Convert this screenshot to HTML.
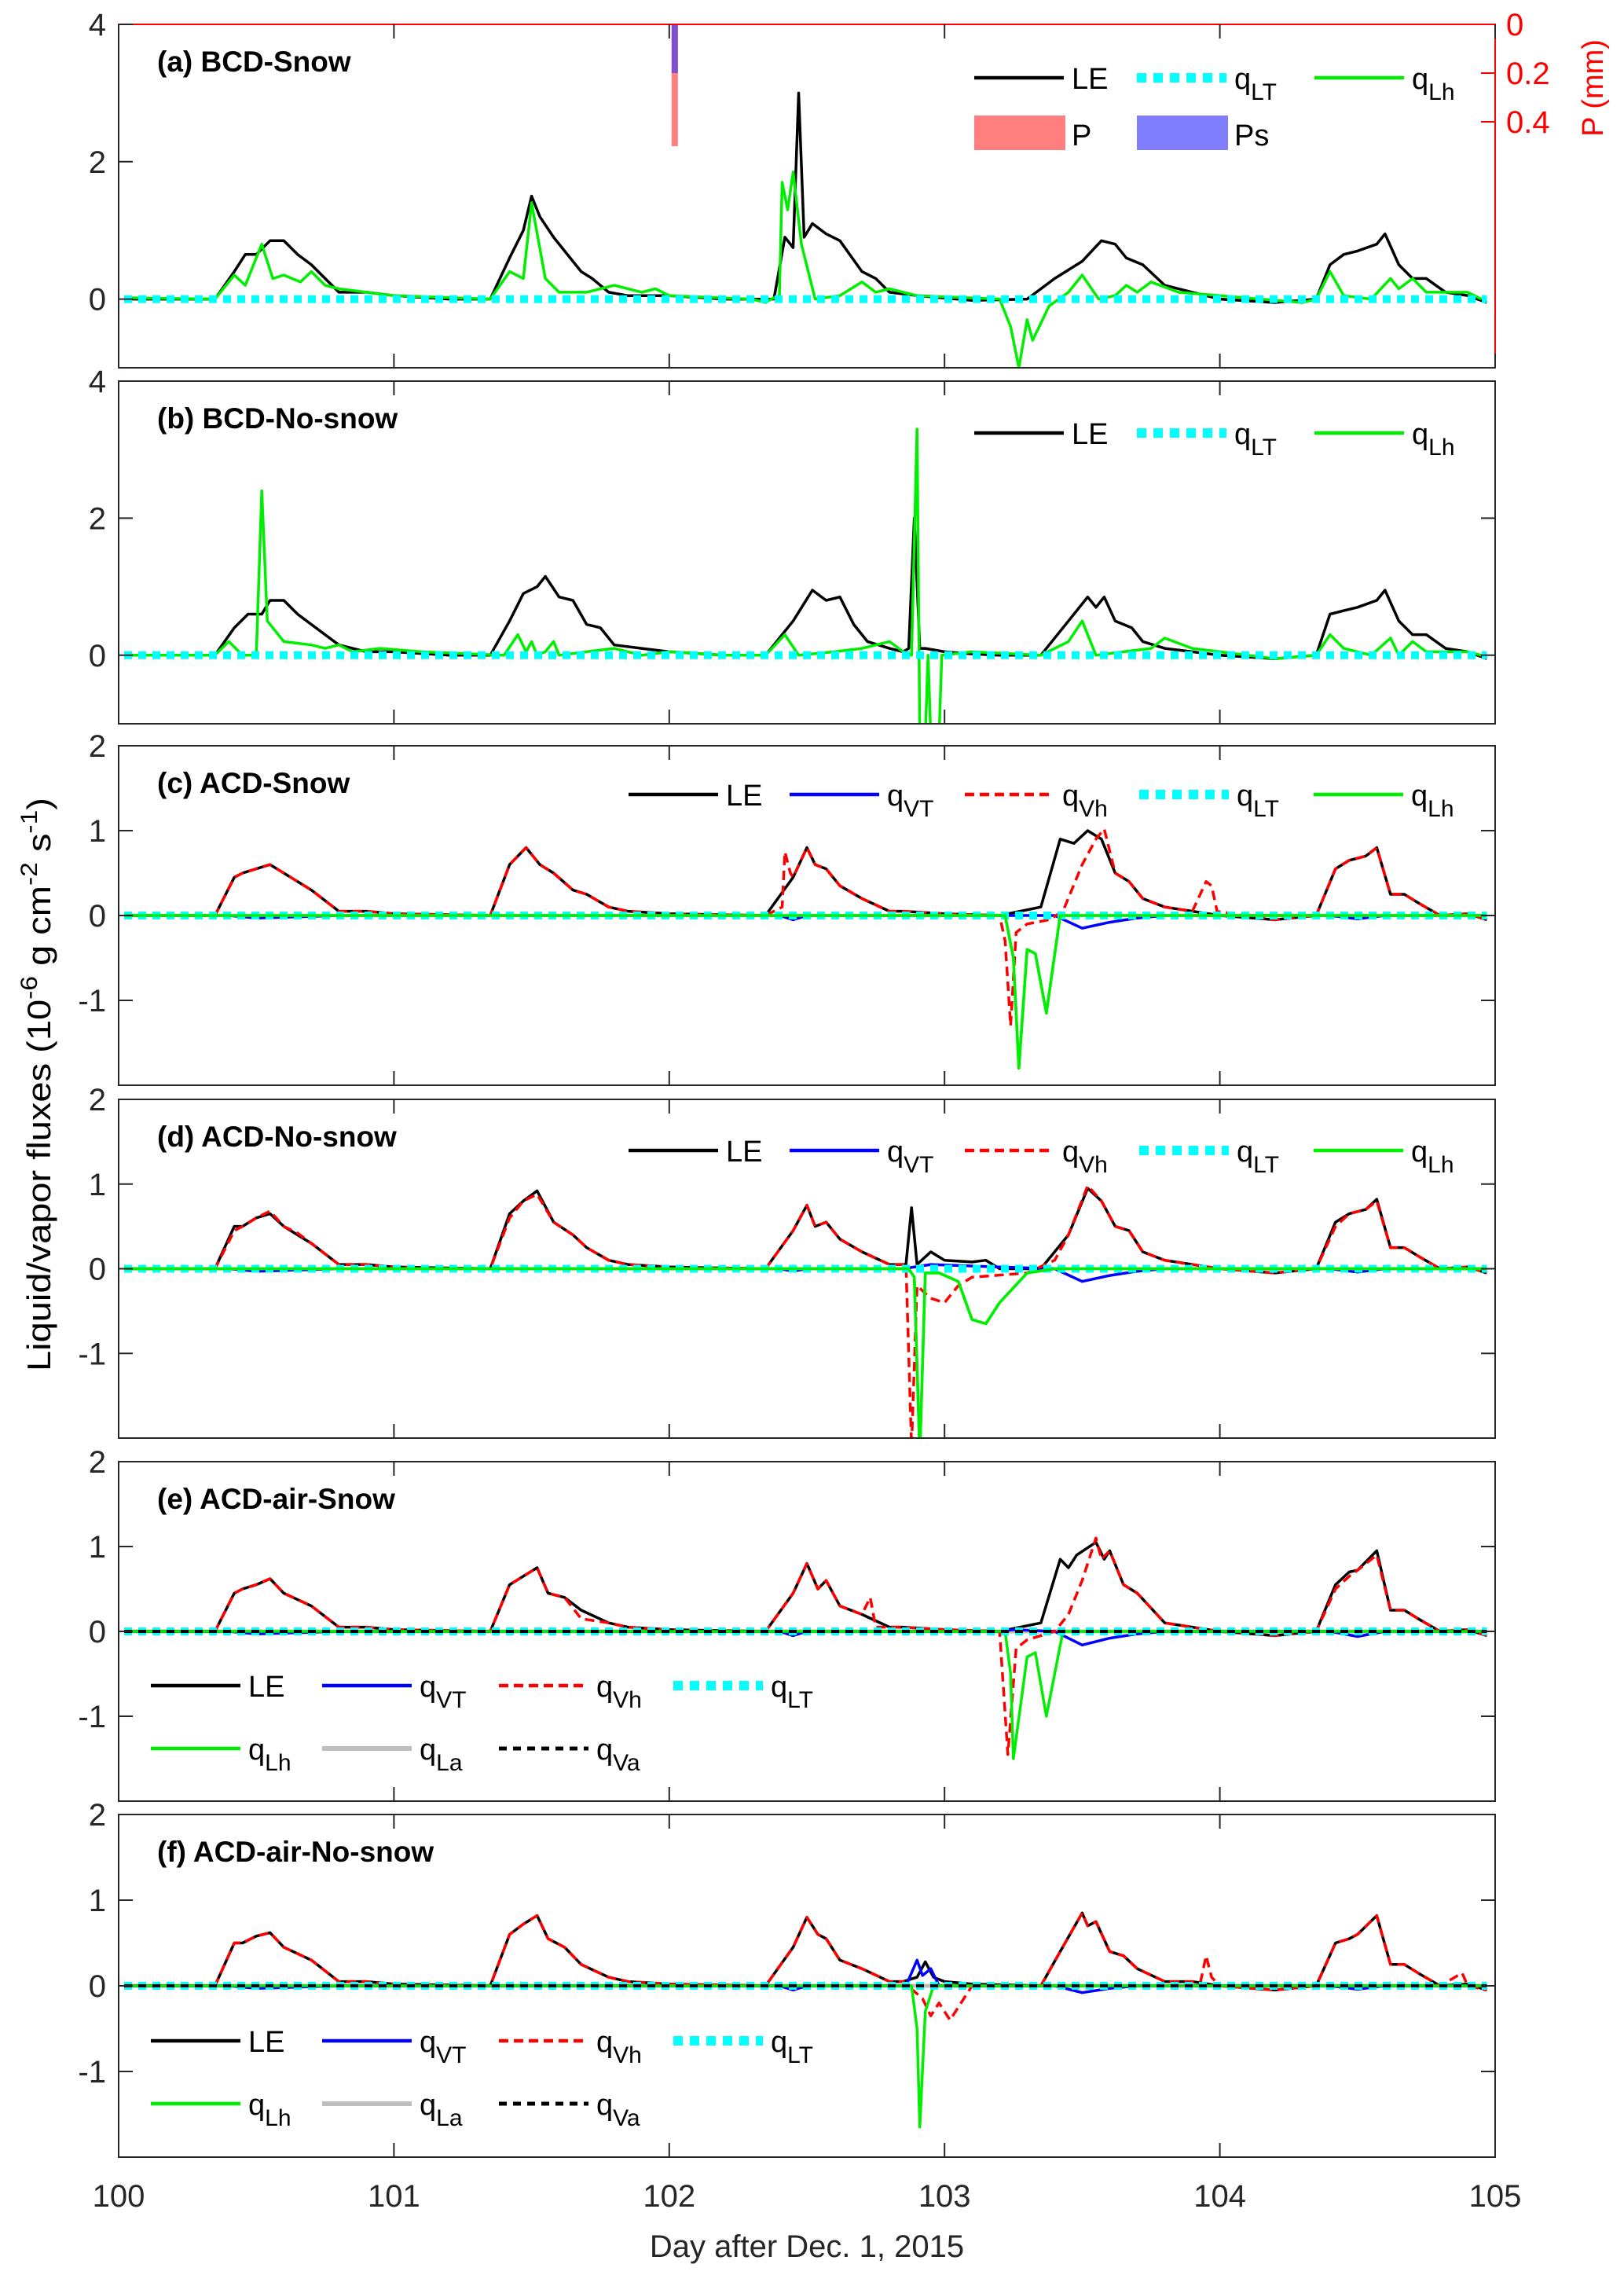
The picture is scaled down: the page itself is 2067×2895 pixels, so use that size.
<!DOCTYPE html>
<html><head><meta charset="utf-8"><style>
html,body{margin:0;padding:0;background:#fff;}
svg{display:block;font-family:"Liberation Sans",Arial,sans-serif;}
</style></head><body>
<svg id="chart" xmlns="http://www.w3.org/2000/svg" width="2067" height="2895" viewBox="0 0 2067 2895">
<rect width="2067" height="2895" fill="#fff"/>
</svg>
<script>
// ---------- data ----------
const xTicks = [100,101,102,103,104,105];
const yTicksAB = [0,2,4];
const yTicksCF = [-1,0,1,2];
const pTicks = [0,0.2,0.4];
const precipDay = [102.02];
const precipP = [0.5];
const precipPs = [0.2];

const a_LE_x = [100.02,100.35,100.42,100.46,100.5,100.55,100.6,100.65,100.7,100.8,100.9,101.0,101.2,101.35,101.42,101.47,101.5,101.53,101.58,101.62,101.68,101.72,101.78,101.85,102.0,102.2,102.38,102.42,102.45,102.47,102.49,102.52,102.57,102.62,102.7,102.75,102.8,102.9,103.1,103.3,103.4,103.5,103.57,103.62,103.66,103.72,103.8,103.9,104.0,104.2,104.35,104.4,104.45,104.5,104.57,104.6,104.65,104.7,104.75,104.82,104.9,104.97];
const a_LE_y = [0,0,0.4,0.65,0.65,0.85,0.85,0.65,0.5,0.1,0.1,0.05,0,0,0.6,1.0,1.5,1.2,0.9,0.7,0.4,0.3,0.1,0.05,0.05,0,0,0.9,0.75,3.0,0.9,1.1,0.95,0.85,0.4,0.3,0.1,0.05,-0.02,0,0.3,0.55,0.85,0.8,0.6,0.5,0.2,0.1,0,-0.05,0,0.5,0.65,0.7,0.8,0.95,0.5,0.3,0.3,0.1,0.05,-0.05];
const a_Lh_x = [100.02,100.35,100.42,100.46,100.52,100.56,100.6,100.66,100.7,100.75,100.8,100.9,101.0,101.35,101.42,101.47,101.5,101.55,101.6,101.7,101.8,101.9,101.95,102.0,102.3,102.35,102.37,102.4,102.41,102.43,102.45,102.48,102.53,102.62,102.7,102.75,102.8,102.9,103.2,103.24,103.27,103.3,103.32,103.38,103.45,103.5,103.56,103.62,103.66,103.7,103.75,103.85,104.0,104.3,104.35,104.4,104.45,104.55,104.62,104.65,104.7,104.75,104.9,104.95];
const a_Lh_y = [0.02,0,0.35,0.2,0.8,0.3,0.35,0.25,0.4,0.2,0.15,0.1,0.05,0,0.4,0.3,1.4,0.3,0.1,0.1,0.2,0.1,0.15,0.05,0,-0.05,0,0.05,1.7,1.3,1.85,0.8,0,0.05,0.25,0.1,0.15,0.05,0,-0.4,-1.0,-0.3,-0.6,-0.1,0.1,0.35,0,0.05,0.2,0.1,0.25,0.1,0.05,-0.05,0,0.4,0.05,0,0.3,0.15,0.3,0.1,0.1,0];

const b_LE_x = [100.02,100.35,100.42,100.47,100.52,100.55,100.6,100.65,100.7,100.8,100.9,101.0,101.2,101.35,101.42,101.47,101.52,101.55,101.6,101.65,101.7,101.75,101.8,101.9,102.0,102.2,102.35,102.45,102.52,102.57,102.62,102.67,102.72,102.8,102.85,102.87,102.89,102.91,102.93,103.0,103.1,103.2,103.35,103.45,103.52,103.55,103.58,103.62,103.68,103.72,103.8,103.9,104.0,104.2,104.35,104.4,104.45,104.5,104.57,104.6,104.65,104.7,104.75,104.82,104.9,104.97];
const b_LE_y = [0,0,0.4,0.6,0.6,0.8,0.8,0.6,0.45,0.15,0.05,0.05,0,0,0.5,0.9,1.0,1.15,0.85,0.8,0.45,0.4,0.15,0.1,0.05,0,0,0.5,0.95,0.8,0.85,0.45,0.2,0.1,0.05,0.1,2.0,0.1,0.1,0.05,0.02,0,0,0.5,0.85,0.7,0.85,0.5,0.4,0.2,0.1,0.05,0,-0.05,0,0.6,0.65,0.7,0.8,0.95,0.5,0.3,0.3,0.1,0.05,-0.05];
const b_Lh_x = [100.02,100.35,100.4,100.45,100.5,100.52,100.54,100.6,100.7,100.75,100.8,100.85,100.95,101.1,101.4,101.45,101.48,101.5,101.52,101.55,101.58,101.6,101.7,101.8,101.9,102.0,102.2,102.35,102.42,102.47,102.6,102.7,102.8,102.85,102.88,102.9,102.91,102.93,102.94,102.95,102.98,102.99,103.1,103.35,103.45,103.5,103.55,103.65,103.75,103.8,103.9,104.0,104.2,104.35,104.4,104.45,104.55,104.62,104.65,104.7,104.75,104.9,104.95];
const b_Lh_y = [0,0,0.2,0,0,2.4,0.5,0.2,0.15,0.1,0.15,0.05,0.1,0.05,0,0.3,0.05,0.2,0,0.05,0.2,0,0.05,0.1,0,0.05,0,0,0.3,0,0.05,0.1,0.2,0.05,0,3.3,-1.2,-1.2,0,-1.2,-1.2,0,0.05,0,0.2,0.5,0,0.05,0.1,0.25,0.1,0.05,-0.05,0,0.3,0.1,0,0.25,0,0.2,0.05,0.05,0];

const c_LE_x = [100.02,100.35,100.42,100.45,100.5,100.55,100.6,100.7,100.8,100.9,101.0,101.35,101.42,101.48,101.53,101.58,101.65,101.7,101.78,101.85,102.0,102.35,102.45,102.5,102.53,102.57,102.62,102.7,102.8,102.85,103.0,103.2,103.35,103.42,103.47,103.52,103.57,103.62,103.67,103.72,103.8,103.9,104.0,104.2,104.35,104.42,104.47,104.53,104.57,104.62,104.67,104.72,104.8,104.9,104.97];
const c_LE_y = [0,0,0.45,0.5,0.55,0.6,0.5,0.3,0.05,0.05,0.02,0,0.6,0.8,0.6,0.5,0.3,0.25,0.1,0.05,0.02,0,0.45,0.8,0.6,0.55,0.35,0.2,0.05,0.05,0.02,0,0.1,0.9,0.85,1.0,0.9,0.5,0.4,0.2,0.1,0.05,0,-0.05,0,0.55,0.65,0.7,0.8,0.25,0.25,0.15,0,0.02,-0.05];
const c_Vh_x = [100.02,100.35,100.42,100.45,100.5,100.55,100.6,100.7,100.8,100.9,101.0,101.35,101.42,101.48,101.53,101.58,101.65,101.7,101.78,101.85,102.0,102.35,102.41,102.42,102.44,102.45,102.5,102.53,102.57,102.62,102.7,102.8,102.85,103.0,103.2,103.22,103.24,103.26,103.3,103.38,103.43,103.5,103.55,103.58,103.62,103.67,103.72,103.8,103.9,103.95,103.97,103.99,104.2,104.35,104.42,104.47,104.53,104.57,104.62,104.67,104.72,104.8,104.9,104.97];
const c_Vh_y = [0,0,0.45,0.5,0.55,0.6,0.5,0.3,0.05,0.05,0.02,0,0.6,0.8,0.6,0.5,0.3,0.25,0.1,0.05,0.02,0,0.1,0.75,0.5,0.45,0.8,0.6,0.55,0.35,0.2,0.05,0.05,0.02,0,-0.3,-1.3,-0.2,-0.1,-0.05,0.05,0.6,0.9,1.02,0.5,0.4,0.2,0.1,0.05,0.4,0.35,0.05,-0.05,0,0.55,0.65,0.7,0.8,0.25,0.25,0.15,0,0.02,-0.05];
const c_VT_x = [100.02,100.4,100.5,100.6,100.8,102.4,102.45,102.5,103.4,103.5,103.6,103.7,103.8,104.4,104.5,104.6,104.97];
const c_VT_y = [0,0,-0.03,-0.02,0,0,-0.05,0,0,-0.15,-0.08,-0.03,0,0,-0.04,0,0];
const c_Lh_x = [100.02,103.22,103.25,103.27,103.3,103.33,103.37,103.42,104.97];
const c_Lh_y = [0,0,-0.5,-1.8,-0.4,-0.45,-1.15,0,0];

const d_LE_x = [100.02,100.35,100.42,100.45,100.5,100.55,100.6,100.7,100.8,100.9,101.0,101.35,101.42,101.47,101.52,101.58,101.65,101.7,101.78,101.85,102.0,102.35,102.45,102.5,102.53,102.57,102.62,102.7,102.8,102.86,102.88,102.9,102.95,103.0,103.1,103.15,103.2,103.35,103.45,103.52,103.57,103.62,103.67,103.72,103.8,103.9,104.0,104.2,104.35,104.42,104.47,104.53,104.57,104.62,104.67,104.72,104.8,104.9,104.97];
const d_LE_y = [0,0,0.5,0.5,0.6,0.65,0.5,0.3,0.05,0.05,0.02,0,0.65,0.8,0.92,0.55,0.4,0.25,0.1,0.05,0.02,0,0.45,0.75,0.5,0.55,0.35,0.2,0.05,0.05,0.72,0.05,0.2,0.1,0.08,0.1,0,0,0.4,0.95,0.8,0.5,0.45,0.2,0.1,0.05,0,-0.05,0,0.55,0.65,0.7,0.82,0.25,0.25,0.15,0,0.02,-0.05];
const d_Vh_x = [100.02,100.35,100.42,100.45,100.5,100.55,100.6,100.65,100.7,100.8,100.9,101.0,101.35,101.42,101.47,101.52,101.58,101.65,101.7,101.78,101.85,102.0,102.35,102.45,102.5,102.53,102.57,102.62,102.7,102.8,102.86,102.88,102.9,102.95,103.0,103.05,103.1,103.3,103.4,103.45,103.52,103.57,103.62,103.67,103.72,103.8,103.9,104.0,104.2,104.35,104.42,104.47,104.53,104.57,104.62,104.67,104.72,104.8,104.9,104.97];
const d_Vh_y = [0,0,0.45,0.5,0.6,0.68,0.5,0.42,0.3,0.05,0.05,0.02,0,0.6,0.8,0.88,0.55,0.4,0.25,0.1,0.05,0.02,0,0.45,0.75,0.5,0.55,0.35,0.2,0.05,0.05,-2.1,-0.2,-0.35,-0.4,-0.2,-0.1,-0.05,0.1,0.4,0.98,0.8,0.5,0.45,0.2,0.1,0.05,0,-0.05,0,0.5,0.65,0.7,0.8,0.25,0.25,0.15,0,0.02,-0.05];
const d_VT_x = [100.02,100.4,100.5,100.6,100.8,102.4,102.45,102.5,102.85,102.95,103.2,103.4,103.5,103.6,103.7,103.8,104.4,104.5,104.6,104.97];
const d_VT_y = [0,0,-0.03,-0.02,0,0,-0.03,0,0,0.05,0.02,0,-0.15,-0.08,-0.03,0,0,-0.04,0,0];
const d_Lh_x = [100.02,102.87,102.89,102.91,102.93,102.98,103.05,103.1,103.15,103.2,103.3,103.4,104.97];
const d_Lh_y = [0,0,-0.1,-2.2,-0.05,-0.05,-0.15,-0.6,-0.65,-0.4,-0.05,0,0];

const e_LE_x = [100.02,100.35,100.42,100.45,100.5,100.55,100.6,100.7,100.8,100.9,101.0,101.35,101.42,101.47,101.52,101.56,101.62,101.68,101.78,101.85,102.0,102.35,102.45,102.5,102.54,102.57,102.62,102.7,102.8,102.85,103.0,103.2,103.35,103.42,103.45,103.48,103.55,103.58,103.6,103.65,103.7,103.8,103.9,104.0,104.2,104.35,104.42,104.47,104.5,104.57,104.62,104.67,104.72,104.8,104.9,104.97];
const e_LE_y = [0,0,0.45,0.5,0.55,0.62,0.45,0.3,0.05,0.05,0.02,0,0.55,0.65,0.75,0.45,0.4,0.25,0.1,0.05,0.02,0,0.45,0.8,0.5,0.6,0.3,0.2,0.05,0.05,0.02,0,0.1,0.85,0.75,0.9,1.05,0.85,0.95,0.55,0.45,0.1,0.05,0,-0.05,0,0.55,0.7,0.72,0.95,0.25,0.25,0.15,0,0.02,-0.05];
const e_Vh_x = [100.02,100.35,100.42,100.45,100.5,100.55,100.6,100.7,100.8,100.9,101.0,101.35,101.42,101.47,101.52,101.56,101.62,101.68,101.78,101.85,102.0,102.35,102.45,102.5,102.54,102.57,102.62,102.7,102.73,102.75,102.8,102.85,103.0,103.2,103.23,103.26,103.3,103.4,103.45,103.5,103.55,103.57,103.6,103.65,103.7,103.8,103.9,104.0,104.2,104.35,104.42,104.47,104.5,104.57,104.62,104.67,104.72,104.8,104.9,104.97];
const e_Vh_y = [0,0,0.45,0.5,0.55,0.62,0.45,0.3,0.05,0.05,0.02,0,0.55,0.65,0.75,0.45,0.4,0.15,0.1,0.05,0.02,0,0.45,0.8,0.5,0.6,0.3,0.2,0.4,0.05,0.05,0.05,0.02,0,-1.45,-0.2,-0.1,0,0.2,0.6,1.1,0.85,0.95,0.55,0.45,0.1,0.05,0,-0.05,0,0.5,0.65,0.72,0.9,0.25,0.25,0.15,0,0.02,-0.05];
const e_VT_x = [100.02,100.4,100.5,100.6,100.8,102.4,102.45,102.5,103.2,103.25,103.4,103.5,103.6,103.7,103.8,104.4,104.5,104.6,104.97];
const e_VT_y = [0,0,-0.03,-0.02,0,0,-0.05,0,0,0.02,0,-0.16,-0.08,-0.03,0,0,-0.06,0,0];
const e_Lh_x = [100.02,103.22,103.24,103.25,103.3,103.33,103.37,103.43,104.97];
const e_Lh_y = [0,0,-0.5,-1.5,-0.3,-0.25,-1.0,0,0];

const f_LE_x = [100.02,100.35,100.42,100.45,100.5,100.55,100.6,100.7,100.8,100.9,101.0,101.35,101.42,101.47,101.52,101.56,101.62,101.68,101.78,101.85,102.0,102.35,102.45,102.5,102.54,102.57,102.62,102.7,102.8,102.85,102.9,102.93,102.96,103.0,103.1,103.35,103.42,103.5,103.52,103.55,103.6,103.65,103.7,103.8,103.9,104.0,104.2,104.35,104.42,104.47,104.5,104.57,104.62,104.67,104.72,104.8,104.9,104.97];
const f_LE_y = [0,0,0.5,0.5,0.58,0.62,0.45,0.3,0.05,0.05,0.02,0,0.6,0.72,0.82,0.55,0.45,0.25,0.1,0.05,0.02,0,0.45,0.8,0.6,0.55,0.3,0.2,0.05,0.05,0.1,0.28,0.1,0.05,0.02,0,0.4,0.85,0.7,0.75,0.4,0.35,0.2,0.05,0.05,0,-0.05,0,0.5,0.55,0.6,0.82,0.25,0.25,0.15,0,0.02,-0.05];
const f_Vh_x = [100.02,100.35,100.42,100.45,100.5,100.55,100.6,100.7,100.8,100.9,101.0,101.35,101.42,101.47,101.52,101.56,101.62,101.68,101.78,101.85,102.0,102.35,102.45,102.5,102.54,102.57,102.62,102.7,102.8,102.85,102.92,102.95,102.98,103.02,103.1,103.35,103.42,103.5,103.52,103.55,103.6,103.65,103.7,103.8,103.93,103.95,103.97,104.0,104.2,104.35,104.42,104.47,104.5,104.57,104.62,104.67,104.72,104.8,104.88,104.9,104.97];
const f_Vh_y = [0,0,0.5,0.5,0.58,0.62,0.45,0.3,0.05,0.05,0.02,0,0.6,0.72,0.82,0.55,0.45,0.25,0.1,0.05,0.02,0,0.45,0.8,0.6,0.55,0.3,0.2,0.05,0.05,-0.15,-0.35,-0.2,-0.4,0,0,0.4,0.85,0.7,0.75,0.4,0.35,0.2,0.05,0.05,0.35,0.1,0,-0.05,0,0.5,0.55,0.6,0.82,0.25,0.25,0.15,0,0.15,0,-0.05];
const f_VT_x = [100.02,100.4,100.5,100.6,100.8,102.4,102.45,102.5,102.86,102.9,102.92,102.95,102.98,103.4,103.5,103.6,103.7,104.4,104.5,104.6,104.97];
const f_VT_y = [0,0,-0.03,-0.02,0,0,-0.05,0,0,0.3,0.12,0.2,0,0,-0.08,-0.03,0,0,-0.04,0,0];
const f_Lh_x = [100.02,102.88,102.9,102.91,102.93,102.96,104.97];
const f_Lh_y = [0,0,-0.5,-1.65,-0.3,0,0];

const flat_x = [100.02,104.97];
const flat_y = [0,0];

// ---------- drawing ----------
const NS='http://www.w3.org/2000/svg';
const svg=document.getElementById('chart');
const X0=151, X1=1903;
function xs(d){return X0+(d-100)/5*(X1-X0);}
function mk(tag,attrs,parent){const e=document.createElementNS(NS,tag);for(const k in attrs)e.setAttribute(k,attrs[k]);(parent||svg).appendChild(e);return e;}

const panels=[
 {id:'a',title:'(a) BCD-Snow',top:31,bot:468,ymin:-1,ymax:4,yt:yTicksAB},
 {id:'b',title:'(b) BCD-No-snow',top:485,bot:921,ymin:-1,ymax:4,yt:yTicksAB},
 {id:'c',title:'(c) ACD-Snow',top:949,bot:1381,ymin:-2,ymax:2,yt:yTicksCF},
 {id:'d',title:'(d) ACD-No-snow',top:1399,bot:1830,ymin:-2,ymax:2,yt:yTicksCF},
 {id:'e',title:'(e) ACD-air-Snow',top:1860,bot:2292,ymin:-2,ymax:2,yt:yTicksCF},
 {id:'f',title:'(f) ACD-air-No-snow',top:2309,bot:2745,ymin:-2,ymax:2,yt:yTicksCF}
];
const series={
 a:[['LE',a_LE_x,a_LE_y],['Lh',a_Lh_x,a_Lh_y]],
 b:[['LE',b_LE_x,b_LE_y],['Lh',b_Lh_x,b_Lh_y]],
 c:[['LE',c_LE_x,c_LE_y],['VT',c_VT_x,c_VT_y],['Vh',c_Vh_x,c_Vh_y],['Lh',c_Lh_x,c_Lh_y]],
 d:[['LE',d_LE_x,d_LE_y],['VT',d_VT_x,d_VT_y],['Vh',d_Vh_x,d_Vh_y],['Lh',d_Lh_x,d_Lh_y]],
 e:[['La',flat_x,flat_y],['LE',e_LE_x,e_LE_y],['VT',e_VT_x,e_VT_y],['Vh',e_Vh_x,e_Vh_y],['Lh',e_Lh_x,e_Lh_y],['Va',flat_x,flat_y]],
 f:[['La',flat_x,flat_y],['LE',f_LE_x,f_LE_y],['VT',f_VT_x,f_VT_y],['Vh',f_Vh_x,f_Vh_y],['Lh',f_Lh_x,f_Lh_y],['Va',flat_x,flat_y]]
};
const styles={
 LE:{stroke:'#000',w:3.5},
 VT:{stroke:'#0000ff',w:3.5},
 Vh:{stroke:'#ff0000',w:3.5,dash:'12 7'},
 LT:{stroke:'#00ffff',w:10,dash:'10 8'},
 Lh:{stroke:'#00ee00',w:3.5},
 La:{stroke:'#bfbfbf',w:5},
 Va:{stroke:'#000',w:4,dash:'10 8'}
};

panels.forEach(p=>{
  const g=mk('g',{});
  
  
  const ys=v=>p.bot-(v-p.ymin)/(p.ymax-p.ymin)*(p.bot-p.top);
  const cp=mk('clipPath',{id:'clip'+p.id},g);
  mk('rect',{x:X0,y:p.top,width:X1-X0,height:p.bot-p.top},cp);
  if(p.id==='a'){
    const pys=v=>p.top+v/0.2*62;
    precipDay.forEach((d,i)=>{
      const r=mk('rect',{x:xs(d)-4,y:pys(0),width:8,height:pys(precipP[i])-pys(0),fill:'#ff7f7f'},g);
      
      
      const r2=mk('rect',{x:xs(d)-4,y:pys(0),width:8,height:pys(precipPs[i])-pys(0),fill:'#7f50d0'},g);
      
      
    });
  }
  const cg=mk('g',{'clip-path':'url(#clip'+p.id+')'},g);
  const order=series[p.id];
  const draw=(key,xa,ya)=>{
    const s=styles[key];
    const pts=xa.map((x,i)=>xs(x).toFixed(1)+','+ys(ya[i]).toFixed(1)).join(' ');
    const pl=mk('polyline',{points:pts,fill:'none',stroke:s.stroke,'stroke-width':s.w,'stroke-linejoin':'round'},cg);
    if(s.dash)pl.setAttribute('stroke-dasharray',s.dash);
    
    
  };
  order.forEach(o=>{ if(o[0]!=='Va') draw(o[0],o[1],o[2]); });
  draw('LT',flat_x,flat_y);
  order.forEach(o=>{ if(o[0]==='Lh' && (p.id==='c'||p.id==='d')) draw(o[0],o[1],o[2]); });
  order.forEach(o=>{ if(o[0]==='Va') draw(o[0],o[1],o[2]); });
  const fr=mk('rect',{x:X0,y:p.top,width:X1-X0,height:p.bot-p.top,fill:'none',stroke:p.id==='a'?'#ff0000':'#262626','stroke-width':2},g);
  
  
  if(p.id==='a'){ mk('line',{x1:X0,y1:p.top,x2:X0,y2:p.bot,stroke:'#262626','stroke-width':2},g); mk('line',{x1:X0,y1:p.bot,x2:X1,y2:p.bot,stroke:'#262626','stroke-width':2},g);}
  xTicks.forEach(t=>{
    mk('line',{x1:xs(t),y1:p.bot,x2:xs(t),y2:p.bot-18,stroke:'#262626','stroke-width':2},g);
    mk('line',{x1:xs(t),y1:p.top,x2:xs(t),y2:p.top+18,stroke:'#262626','stroke-width':2},g);
  });
  p.yt.forEach(t=>{
    mk('line',{x1:X0,y1:ys(t),x2:X0+18,y2:ys(t),stroke:'#262626','stroke-width':2},g);
    if(p.id!=='a') mk('line',{x1:X1,y1:ys(t),x2:X1-18,y2:ys(t),stroke:'#262626','stroke-width':2},g);
    const tx=mk('text',{x:X0-16,y:ys(t)+14,'text-anchor':'end','font-size':40,fill:'#262626'},g);
    tx.textContent=String(t);
    
    
  });
  if(p.id==='a'){
    pTicks.forEach(t=>{
      const yy=p.top+t/0.2*62;
      mk('line',{x1:X1,y1:yy,x2:X1-18,y2:yy,stroke:'#ff0000','stroke-width':2},g);
      const tx=mk('text',{x:X1+14,y:yy+14,'font-size':40,fill:'#ff0000'},g);
      tx.textContent=String(t);
      
      
    });
  }
  const tt=mk('text',{x:200,y:p.top+60,'font-size':37,'font-weight':'bold',fill:'#000'},g);
  tt.textContent=p.title;
  
  
});

function legItem(x,y,key,label,sub){
  const g=mk('g',{});
  
  
  const s=styles[key];
  const l=mk('line',{x1:x,y1:y,x2:x+114,y2:y,stroke:s.stroke,'stroke-width':key==='LT'?12:(s.w+1)},g);
  if(s.dash)l.setAttribute('stroke-dasharray',key==='LT'?'12 9':s.dash);
  const t=mk('text',{x:x+124,y:y+14,'font-size':38,fill:'#000'},g);
  t.textContent=label;
  if(sub){const ts=mk('tspan',{'font-size':30,dy:14},t); ts.textContent=sub;}
}
function legBox(x,y,color,label,name){
  const g=mk('g',{});
  
  
  mk('rect',{x:x,y:y-22,width:116,height:44,fill:color},g);
  const t=mk('text',{x:x+124,y:y+16,'font-size':38,fill:'#000'},g);
  t.textContent=label;
}
[99,551].forEach(y=>{
  legItem(1240,y,'LE','LE');
  legItem(1447,y,'LT','q','LT');
  legItem(1673,y,'Lh','q','Lh');
});
legBox(1240,169,'#ff7f7f','P','legend-entry-p');
legBox(1447,169,'#7f7fff','Ps','legend-entry-ps');
[1011,1464].forEach(y=>{
  legItem(800,y,'LE','LE');
  legItem(1005,y,'VT','q','VT');
  legItem(1228,y,'Vh','q','Vh');
  legItem(1450,y,'LT','q','LT');
  legItem(1672,y,'Lh','q','Lh');
});
[[2145,2225],[2597,2677]].forEach(([y1,y2])=>{
  legItem(192,y1,'LE','LE');
  legItem(410,y1,'VT','q','VT');
  legItem(635,y1,'Vh','q','Vh');
  legItem(857,y1,'LT','q','LT');
  legItem(192,y2,'Lh','q','Lh');
  legItem(410,y2,'La','q','La');
  legItem(635,y2,'Va','q','Va');
});

xTicks.forEach(t=>{
  const tx=mk('text',{x:xs(t),y:2808,'text-anchor':'middle','font-size':40,fill:'#262626'});
  tx.textContent=String(t);
  
  
});
const xl=mk('text',{x:1027,y:2872,'text-anchor':'middle','font-size':40,fill:'#262626'});
xl.textContent='Day after Dec. 1, 2015';



const yl=mk('text',{x:0,y:0,'text-anchor':'middle','font-size':42,fill:'#000',textLength:730,lengthAdjust:'spacingAndGlyphs',transform:'translate(64,1380) rotate(-90)'});
yl.innerHTML='Liquid/vapor fluxes (10<tspan font-size="30" dy="-17">-6</tspan><tspan dy="17"> g cm</tspan><tspan font-size="30" dy="-17">-2</tspan><tspan dy="17"> s</tspan><tspan font-size="30" dy="-17">-1</tspan><tspan dy="17">)</tspan>';



const pl=mk('text',{x:0,y:0,'text-anchor':'middle','font-size':38,fill:'#ff0000',transform:'translate(2040,112) rotate(-90)'});
pl.textContent='P (mm)';


</script>
</body></html>
